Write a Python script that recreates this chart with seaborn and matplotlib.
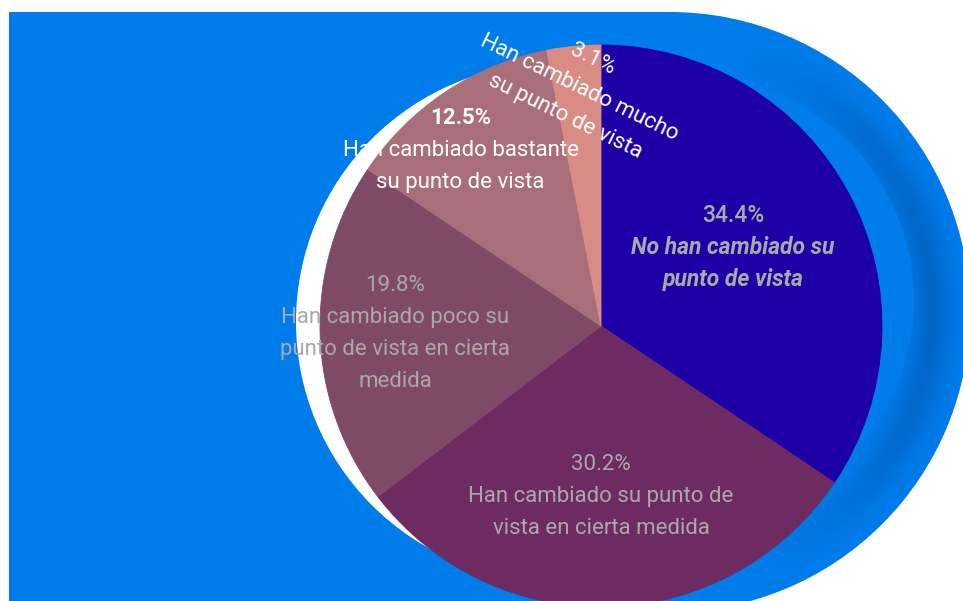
import numpy as np
import matplotlib
matplotlib.use("Agg")
import matplotlib.pyplot as plt
import seaborn as sns
from matplotlib.patches import Circle, Rectangle

# ---------------- data ----------------
categories = [
    "No han cambiado su\npunto de vista",
    "Han cambiado su punto de\nvista en cierta medida",
    "Han cambiado poco su\npunto de vista en cierta\nmedida",
    "Han cambiado bastante\nsu punto de vista",
    "Han cambiado mucho\nsu punto de vista",
]
values = [34.4, 30.2, 19.8, 12.5, 3.1]
pct_labels = [f"{v:.1f}%" for v in values]

# ---------------- style ----------------
sns.set_theme(style="white")
plt.rcParams["font.family"] = ["Roboto", "DejaVu Sans"]

slice_colors = sns.color_palette(["#1E00A7", "#6E2B62", "#7F4A65", "#A86E7A", "#D98C84"])
text_colors = ["#A9A9A9", "#A9A9A9", "#A9A9A9", "white", "white"]
pct_weights = ["medium", "normal", "normal", "bold", "normal"]
label_weights = ["bold", "normal", "normal", "normal", "normal"]
label_styles = ["italic", "normal", "normal", "normal", "normal"]
label_r = [0.546, 0.605, 0.733, 0.80, 0.85]
label_dang = [2.5, -1.8, 0.3, 5.0, -0.3]
label_rot = [0, 0, 0, 0, -26]
label_fs = [16.5, 16, 16, 16, 16]

BLUE = "#017CEB"
DARK = np.array([0x00, 0x63, 0xC2]) / 255.0
W, H = 963, 601
PIE_C = (601, H - 326)
PIE_R = 281
LINE = 32  # px between text lines

fig = plt.figure(figsize=(W / 100, H / 100), dpi=100)
fig.patch.set_facecolor("white")
ax = fig.add_axes([0, 0, 1, 1])
ax.set_facecolor("white")

# background shape: rectangle + big circle
ax.add_patch(Rectangle((9, 0), 670 - 9, H - 12, facecolor=BLUE, edgecolor="none", zorder=0.1))
outer = Circle((670, H - 312), 300, facecolor=BLUE, edgecolor="none", zorder=0.1)
ax.add_patch(outer)

# shaded band inside the big circle
xx, yy = np.meshgrid(np.arange(W) + 0.5, np.arange(H) + 0.5)
dx, dy = xx - 670, yy - (H - 312)
d = np.hypot(dx, dy)
ang = np.degrees(np.arctan2(dy, dx))
wang = np.clip((np.cos(np.radians(ang - 3)) - 0.3) / 0.7, 0, 1)
alpha = 0.85 * np.exp(-((d - 262) / 20.0) ** 2) * wang
img = np.zeros((H, W, 4))
img[..., :3] = DARK
img[..., 3] = alpha
im = ax.imshow(img, extent=[0, W, 0, H], origin="lower", zorder=0.2, interpolation="bilinear")
im.set_clip_path(outer)

# inner light crescent and white disc behind the pie
ax.add_patch(Circle((690, H - 300), 224, facecolor=BLUE, edgecolor="none", zorder=0.3))
ax.add_patch(Circle((555, H - 322), 259, facecolor="white", edgecolor="none", zorder=0.4))

# pie
wedges, _ = ax.pie(
    values,
    colors=slice_colors,
    startangle=90,
    counterclock=False,
    center=PIE_C,
    radius=PIE_R,
    frame=True,
    wedgeprops=dict(linewidth=0.6),
)
for w in wedges:
    w.set_zorder(1)
    w.set_edgecolor(w.get_facecolor())

# labels
for i, w in enumerate(wedges):
    mid = (w.theta1 + w.theta2) / 2 + label_dang[i]
    cx = PIE_C[0] + label_r[i] * PIE_R * np.cos(np.radians(mid))
    cy = PIE_C[1] + label_r[i] * PIE_R * np.sin(np.radians(mid))
    lines = [pct_labels[i]] + categories[i].split("\n")
    n = len(lines)
    rad = np.radians(label_rot[i])
    pdx, pdy = np.sin(rad), -np.cos(rad)
    for j, line in enumerate(lines):
        k = j - (n - 1) / 2
        x = cx + k * LINE * pdx
        y = cy + k * LINE * pdy
        if j == 0:
            wt, st = pct_weights[i], "normal"
        else:
            wt, st = label_weights[i], label_styles[i]
        ax.text(x, y, line, ha="center", va="center", rotation=label_rot[i],
                rotation_mode="anchor", color=text_colors[i], fontsize=label_fs[i],
                fontweight=wt, fontstyle=st, zorder=3)

ax.set_xlim(0, W)
ax.set_ylim(0, H)
ax.set_aspect("auto")
ax.axis("off")

fig.savefig("out.png", dpi=100, facecolor="white")
